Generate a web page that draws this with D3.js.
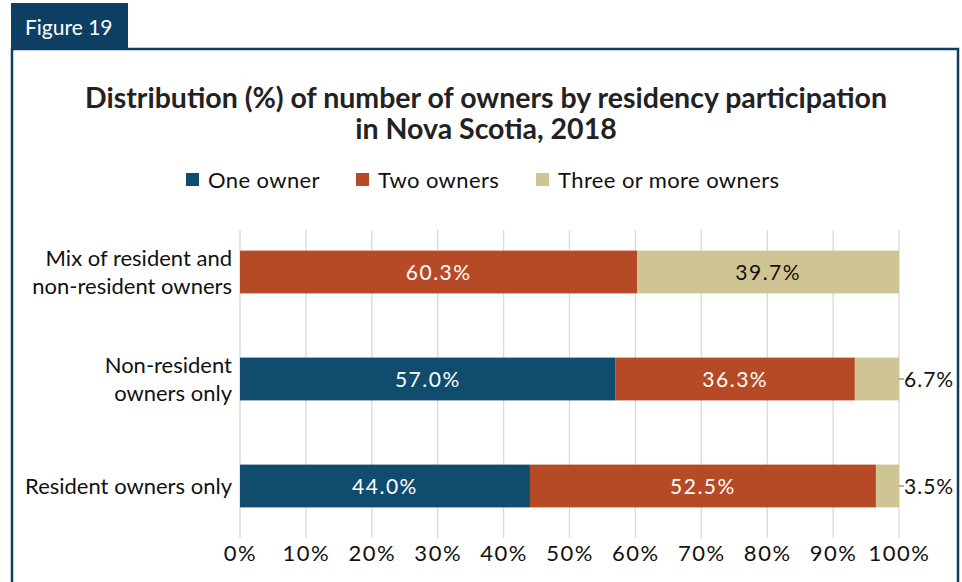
<!DOCTYPE html>
<html>
<head>
<meta charset="utf-8">
<script src="https://cdn.jsdelivr.net/npm/d3@7"></script>
<style>
  body { margin: 0; background: #fff; }
  svg { font-family: "Lato", "Open Sans", sans-serif; }
</style>
</head>
<body>
<svg width="962" height="582"></svg>
<script>
// data
const categories = ["Mix of resident and non-resident owners", "Non-resident owners only", "Resident owners only"];
const categoryLines = [["Mix of resident and", "non-resident owners"], ["Non-resident", "owners only"], ["Resident owners only"]];
const series = ["One owner", "Two owners", "Three or more owners"];
const oneOwner = [0, 57.0, 44.0];
const twoOwners = [60.3, 36.3, 52.5];
const threePlus = [39.7, 6.7, 3.5];
const xTicks = [0, 10, 20, 30, 40, 50, 60, 70, 80, 90, 100];

const colors = ["#0f4c6e", "#b64a26", "#cfc494"];
const labelColors = ["#fff", "#fff", "#111"];

const svg = d3.select("svg");

// frame + tab
svg.append("rect").attr("x", 12).attr("y", 49).attr("width", 946).attr("height", 540)
  .attr("fill", "none").attr("stroke", "#0d3f63").attr("stroke-width", 2.5);
svg.append("rect").attr("x", 11).attr("y", 3).attr("width", 117).attr("height", 46).attr("fill", "#0d3f63");
svg.append("text").attr("x", 25).attr("y", 35).attr("fill", "#fff")
  .attr("font-size", 21).text("Figure 19");

// title
const title = svg.append("text").attr("text-anchor", "middle").attr("font-weight", "bold")
  .attr("font-size", 28.5).attr("fill", "#222");
title.append("tspan").attr("x", 486).attr("y", 108).text("Distribution (%) of number of owners by residency participation");
title.append("tspan").attr("x", 486).attr("y", 139).text("in Nova Scotia, 2018");

// legend
const legendX = [186, 356, 536];
const legend = svg.append("g").selectAll("g").data(series).join("g")
  .attr("transform", (d, i) => `translate(${legendX[i]},180)`);
legend.append("rect").attr("x", 0).attr("y", -7).attr("width", 13).attr("height", 13)
  .attr("fill", (d, i) => colors[i]);
legend.append("text").attr("x", 22).attr("y", 8).attr("font-size", 22).attr("letter-spacing", 0.4)
  .attr("fill", "#111").text(d => d);

// scales
const x = d3.scaleLinear().domain([0, 100]).range([240, 899]);
const y = d3.scaleBand().domain(categories).range([218.5, 539.5]).paddingInner(0.6).paddingOuter(0.3);

// grid
svg.append("g").selectAll("line").data(xTicks).join("line")
  .attr("x1", d => x(d)).attr("x2", d => x(d)).attr("y1", 230).attr("y2", 538)
  .attr("stroke", "#d9d9d9").attr("stroke-width", 1.3);

// x axis labels
const xAxis = svg.append("g").attr("transform", "translate(0,538)")
  .call(d3.axisBottom(x).tickValues(xTicks).tickFormat(d => d + "%").tickSize(0).tickPadding(7));
xAxis.select(".domain").remove();
xAxis.selectAll("text").attr("font-size", 22).attr("letter-spacing", 1.5)
  .attr("fill", "#111").attr("font-family", "Lato, sans-serif");

// stacked bars
const rows = categories.map((c, i) => ({ cat: c, vals: [oneOwner[i], twoOwners[i], threePlus[i]] }));
rows.forEach(r => {
  let acc = 0;
  r.segs = r.vals.map((v, k) => { const s = { k, v, x0: acc, x1: acc + v, cat: r.cat }; acc += v; return s; });
});
const segs = rows.flatMap(r => r.segs).filter(s => s.v > 0);

svg.append("g").selectAll("rect").data(segs).join("rect")
  .attr("x", d => x(d.x0)).attr("width", d => x(d.x1) - x(d.x0))
  .attr("y", d => y(d.cat)).attr("height", y.bandwidth())
  .attr("fill", d => colors[d.k]);

// labels inside
const inside = segs.filter(s => s.v >= 10);
svg.append("g").selectAll("text").data(inside).join("text")
  .attr("x", d => x((d.x0 + d.x1) / 2)).attr("y", d => y(d.cat) + y.bandwidth() / 2 + 8)
  .attr("text-anchor", "middle").attr("font-size", 21).attr("letter-spacing", 1.5)
  .attr("fill", d => labelColors[d.k])
  .text(d => d.v.toFixed(1) + "%");

// labels outside with leader
const outside = segs.filter(s => s.v < 10);
const og = svg.append("g").selectAll("g").data(outside).join("g");
og.append("line").attr("x1", d => x(d.x1)).attr("x2", d => x(d.x1) + 5)
  .attr("y1", d => y(d.cat) + y.bandwidth() / 2).attr("y2", d => y(d.cat) + y.bandwidth() / 2)
  .attr("stroke", "#666").attr("stroke-width", 1);
og.append("text").attr("x", d => x(d.x1) + 5).attr("y", d => y(d.cat) + y.bandwidth() / 2 + 8)
  .attr("font-size", 21).attr("letter-spacing", 1).attr("fill", "#111").text(d => d.v.toFixed(1) + "%");

// category labels
const cl = svg.append("g").selectAll("text").data(categories).join("text")
  .attr("text-anchor", "end").attr("font-size", 22).attr("fill", "#111");
cl.each(function (d, i) {
  const lines = categoryLines[i];
  const cy = y(d) + y.bandwidth() / 2;
  const startY = cy - (lines.length - 1) * 14 + 8;
  lines.forEach((t, j) => {
    d3.select(this).append("tspan").attr("x", 232).attr("y", startY + j * 28).text(t);
  });
});
</script>
</body>
</html>
